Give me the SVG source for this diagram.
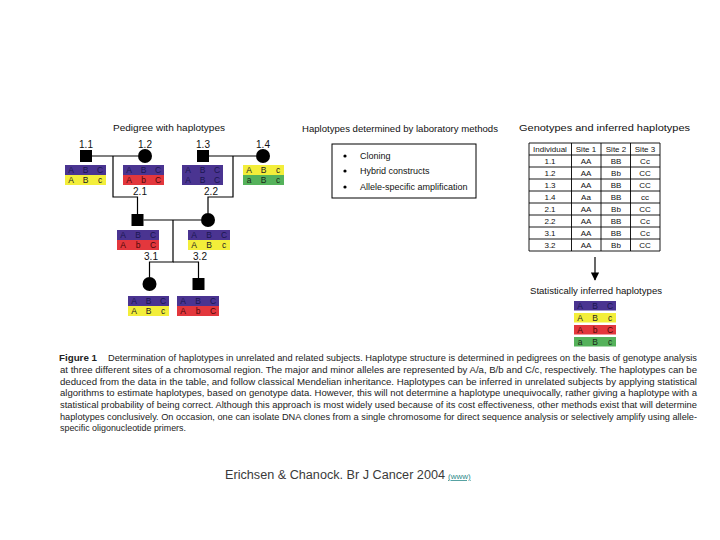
<svg xmlns="http://www.w3.org/2000/svg" width="720" height="540" viewBox="0 0 720 540">
<style>
text{font-family:"Liberation Sans",Arial,sans-serif}
.ttl{font-size:9px;fill:#111}
.lbl{font-size:10px;fill:#111;text-anchor:middle}
.sym{fill:#000}
.ln{stroke:#000;stroke-width:1.2;fill:none}
.pu{fill:#4a3491}.ye{fill:#f3ee3a}.re{fill:#e3373d}.gr{fill:#55b25b}
.h{font-size:8.5px;text-anchor:middle}
.hp{fill:#1a1650}.hy{fill:#222}.hr{fill:#4a0808}.hg{fill:#1a2a1a}
.tb{font-size:8px;fill:#111;text-anchor:middle}
.grid{stroke:#000;stroke-width:0.9;fill:none}
.cap{font-size:9.5px;fill:#222}
.bul{font-size:9px;fill:#111}
</style>
<defs>
<marker id="ah" viewBox="0 0 10 10" refX="9" refY="5" markerWidth="7" markerHeight="7" orient="auto">
<path d="M0,0 L10,5 L0,10 z" fill="#000"/>
</marker>
</defs>

<text class="ttl" x="113" y="131" textLength="112" lengthAdjust="spacingAndGlyphs">Pedigree with haplotypes</text>
<text class="ttl" x="302" y="132" textLength="196" lengthAdjust="spacingAndGlyphs">Haplotypes determined by laboratory methods</text>
<text class="ttl" x="519" y="131" textLength="171" lengthAdjust="spacingAndGlyphs">Genotypes and inferred haplotypes</text>

<g id="connectors">
<path class="ln" d="M92 156 H138"/>
<path class="ln" d="M113 156 V197 H137.5 V214"/>
<path class="ln" d="M209 156 H256"/>
<path class="ln" d="M233 156 V197 H208 V213"/>
<path class="ln" d="M143.5 220 H201"/>
<path class="ln" d="M173 220 V262 H149.5 V277"/>
<path class="ln" d="M173 262 H198.5 V278"/>
<path class="ln" d="M595 257 V280" marker-end="url(#ah)"/>
</g>

<g id="n1_1">
<text class="lbl" x="86" y="148">1.1</text>
<rect class="sym" x="80" y="150" width="12" height="12"/>
<rect class="pu" x="65" y="165" width="41" height="10"/><rect class="ye" x="65" y="175" width="41" height="10"/>
<text class="h hp" y="173"><tspan x="71">A</tspan><tspan x="85.5">B</tspan><tspan x="100">C</tspan></text>
<text class="h hy" y="183"><tspan x="71">A</tspan><tspan x="85.5">B</tspan><tspan x="100">c</tspan></text>
</g>
<g id="n1_2">
<text class="lbl" x="145" y="148">1.2</text>
<circle class="sym" cx="145" cy="156" r="7"/>
<rect class="pu" x="123" y="165" width="41" height="10"/><rect class="re" x="123" y="175" width="41" height="10"/>
<text class="h hp" y="173"><tspan x="129">A</tspan><tspan x="143.5">B</tspan><tspan x="158">C</tspan></text>
<text class="h hr" y="183"><tspan x="129">A</tspan><tspan x="143.5">b</tspan><tspan x="158">C</tspan></text>
</g>
<g id="n1_3">
<text class="lbl" x="203" y="148">1.3</text>
<rect class="sym" x="197" y="150" width="12" height="12"/>
<rect class="pu" x="182" y="165" width="41" height="10"/><rect class="pu" x="182" y="175" width="41" height="10"/>
<text class="h hp" y="173"><tspan x="188">A</tspan><tspan x="202.5">B</tspan><tspan x="217">C</tspan></text>
<text class="h hp" y="183"><tspan x="188">A</tspan><tspan x="202.5">B</tspan><tspan x="217">C</tspan></text>
</g>
<g id="n1_4">
<text class="lbl" x="263" y="148">1.4</text>
<circle class="sym" cx="263" cy="156" r="7"/>
<rect class="ye" x="243" y="165" width="41" height="10"/><rect class="gr" x="243" y="175" width="41" height="10"/>
<text class="h hy" y="173"><tspan x="249">A</tspan><tspan x="263.5">B</tspan><tspan x="278">c</tspan></text>
<text class="h hg" y="183"><tspan x="249">a</tspan><tspan x="263.5">B</tspan><tspan x="278">c</tspan></text>
</g>
<g id="n2_1">
<text class="lbl" x="140" y="195">2.1</text>
<rect class="sym" x="131.5" y="214" width="12" height="12"/>
<rect class="pu" x="117" y="230" width="42" height="10"/><rect class="re" x="117" y="240" width="42" height="10"/>
<text class="h hp" y="238"><tspan x="123">A</tspan><tspan x="138">B</tspan><tspan x="153">C</tspan></text>
<text class="h hr" y="248"><tspan x="123">A</tspan><tspan x="138">b</tspan><tspan x="153">C</tspan></text>
</g>
<g id="n2_2">
<text class="lbl" x="211" y="195">2.2</text>
<circle class="sym" cx="208" cy="220" r="7"/>
<rect class="pu" x="188" y="230" width="42" height="10"/><rect class="ye" x="188" y="240" width="42" height="10"/>
<text class="h hp" y="238"><tspan x="194">A</tspan><tspan x="209">B</tspan><tspan x="224">C</tspan></text>
<text class="h hy" y="248"><tspan x="194">A</tspan><tspan x="209">B</tspan><tspan x="224">c</tspan></text>
</g>
<g id="n3_1">
<text class="lbl" x="151" y="260">3.1</text>
<circle class="sym" cx="149.5" cy="284" r="7"/>
<rect class="pu" x="128" y="296" width="41" height="10"/><rect class="ye" x="128" y="306" width="41" height="10"/>
<text class="h hp" y="304"><tspan x="134">A</tspan><tspan x="148.5">B</tspan><tspan x="163">C</tspan></text>
<text class="h hy" y="314"><tspan x="134">A</tspan><tspan x="148.5">B</tspan><tspan x="163">c</tspan></text>
</g>
<g id="n3_2">
<text class="lbl" x="200" y="260">3.2</text>
<rect class="sym" x="192.5" y="278" width="12" height="12"/>
<rect class="pu" x="177" y="296" width="42" height="10"/><rect class="re" x="177" y="306" width="42" height="10"/>
<text class="h hp" y="304"><tspan x="183">A</tspan><tspan x="198">B</tspan><tspan x="213">C</tspan></text>
<text class="h hr" y="314"><tspan x="183">A</tspan><tspan x="198">b</tspan><tspan x="213">C</tspan></text>
</g>

<g id="lab-methods">
<rect x="332" y="144" width="144" height="54" fill="#fff" stroke="#000" stroke-width="1"/>
<circle cx="345" cy="156" r="1.6" fill="#000"/>
<circle cx="345" cy="171" r="1.6" fill="#000"/>
<circle cx="345" cy="187" r="1.6" fill="#000"/>
<text class="bul" x="360" y="159">Cloning</text>
<text class="bul" x="360" y="174">Hybrid constructs</text>
<text class="bul" x="360" y="190">Allele-specific amplification</text>
</g>

<g id="genotype-table">
<path class="grid" d="M529 143 H660 M529 155 H660 M529 167 H660 M529 179 H660 M529 191 H660 M529 203 H660 M529 215 H660 M529 227 H660 M529 239 H660 M529 251 H660 M529 143 V251 M571.5 143 V251 M601 143 V251 M630.5 143 V251 M660 143 V251"/>
<text class="tb" y="152"><tspan x="550">Individual</tspan><tspan x="586">Site 1</tspan><tspan x="616">Site 2</tspan><tspan x="645">Site 3</tspan></text>
<text class="tb" y="164"><tspan x="550">1.1</tspan><tspan x="586">AA</tspan><tspan x="616">BB</tspan><tspan x="645">Cc</tspan></text>
<text class="tb" y="176"><tspan x="550">1.2</tspan><tspan x="586">AA</tspan><tspan x="616">Bb</tspan><tspan x="645">CC</tspan></text>
<text class="tb" y="188"><tspan x="550">1.3</tspan><tspan x="586">AA</tspan><tspan x="616">BB</tspan><tspan x="645">CC</tspan></text>
<text class="tb" y="200"><tspan x="550">1.4</tspan><tspan x="586">Aa</tspan><tspan x="616">BB</tspan><tspan x="645">cc</tspan></text>
<text class="tb" y="212"><tspan x="550">2.1</tspan><tspan x="586">AA</tspan><tspan x="616">Bb</tspan><tspan x="645">CC</tspan></text>
<text class="tb" y="224"><tspan x="550">2.2</tspan><tspan x="586">AA</tspan><tspan x="616">BB</tspan><tspan x="645">Cc</tspan></text>
<text class="tb" y="236"><tspan x="550">3.1</tspan><tspan x="586">AA</tspan><tspan x="616">BB</tspan><tspan x="645">Cc</tspan></text>
<text class="tb" y="248"><tspan x="550">3.2</tspan><tspan x="586">AA</tspan><tspan x="616">Bb</tspan><tspan x="645">CC</tspan></text>
</g>

<g id="stat-haplotypes">
<text class="ttl" x="530" y="294" textLength="132" lengthAdjust="spacingAndGlyphs">Statistically inferred haplotypes</text>
<rect class="pu" x="574" y="301" width="42" height="9.5"/>
<rect class="ye" x="574" y="313" width="42" height="9.5"/>
<rect class="re" x="574" y="325" width="42" height="9.5"/>
<rect class="gr" x="574" y="337" width="42" height="9.5"/>
<text class="h hp" y="308.5"><tspan x="580">A</tspan><tspan x="595">B</tspan><tspan x="610">C</tspan></text>
<text class="h hy" y="320.5"><tspan x="580">A</tspan><tspan x="595">B</tspan><tspan x="610">c</tspan></text>
<text class="h hr" y="332.5"><tspan x="580">A</tspan><tspan x="595">b</tspan><tspan x="610">C</tspan></text>
<text class="h hg" y="344.5"><tspan x="580">a</tspan><tspan x="595">B</tspan><tspan x="610">c</tspan></text>
</g>

<g id="caption">
<text class="cap" x="59" y="361" font-weight="bold" textLength="38" lengthAdjust="spacingAndGlyphs">Figure 1</text>
<text class="cap" x="108" y="361" textLength="589" lengthAdjust="spacingAndGlyphs">Determination of haplotypes in unrelated and related subjects. Haplotype structure is determined in pedigrees on the basis of genotype analysis</text>
<text class="cap" x="60" y="373" textLength="637" lengthAdjust="spacingAndGlyphs">at three different sites of a chromosomal region. The major and minor alleles are represented by A/a, B/b and C/c, respectively. The haplotypes can be</text>
<text class="cap" x="60" y="384.5" textLength="637" lengthAdjust="spacingAndGlyphs">deduced from the data in the table, and follow classical Mendelian inheritance. Haplotypes can be inferred in unrelated subjects by applying statistical</text>
<text class="cap" x="60" y="396" textLength="637" lengthAdjust="spacingAndGlyphs">algorithms to estimate haplotypes, based on genotype data. However, this will not determine a haplotype unequivocally, rather giving a haplotype with a</text>
<text class="cap" x="60" y="408" textLength="637" lengthAdjust="spacingAndGlyphs">statistical probability of being correct. Although this approach is most widely used because of its cost effectiveness, other methods exist that will determine</text>
<text class="cap" x="60" y="419.5" textLength="637" lengthAdjust="spacingAndGlyphs">haplotypes conclusively. On occasion, one can isolate DNA clones from a single chromosome for direct sequence analysis or selectively amplify using allele-</text>
<text class="cap" x="60" y="431" textLength="126" lengthAdjust="spacingAndGlyphs">specific oligonucleotide primers.</text>
</g>

<g id="footer">
<text x="225" y="479" font-size="12" fill="#3a3a3a" textLength="220" lengthAdjust="spacingAndGlyphs">Erichsen &amp; Chanock. Br J Cancer 2004</text>
<text x="448" y="479" font-size="8" fill="#2e8b8b" text-decoration="underline">(www)</text>
</g>
</svg>
